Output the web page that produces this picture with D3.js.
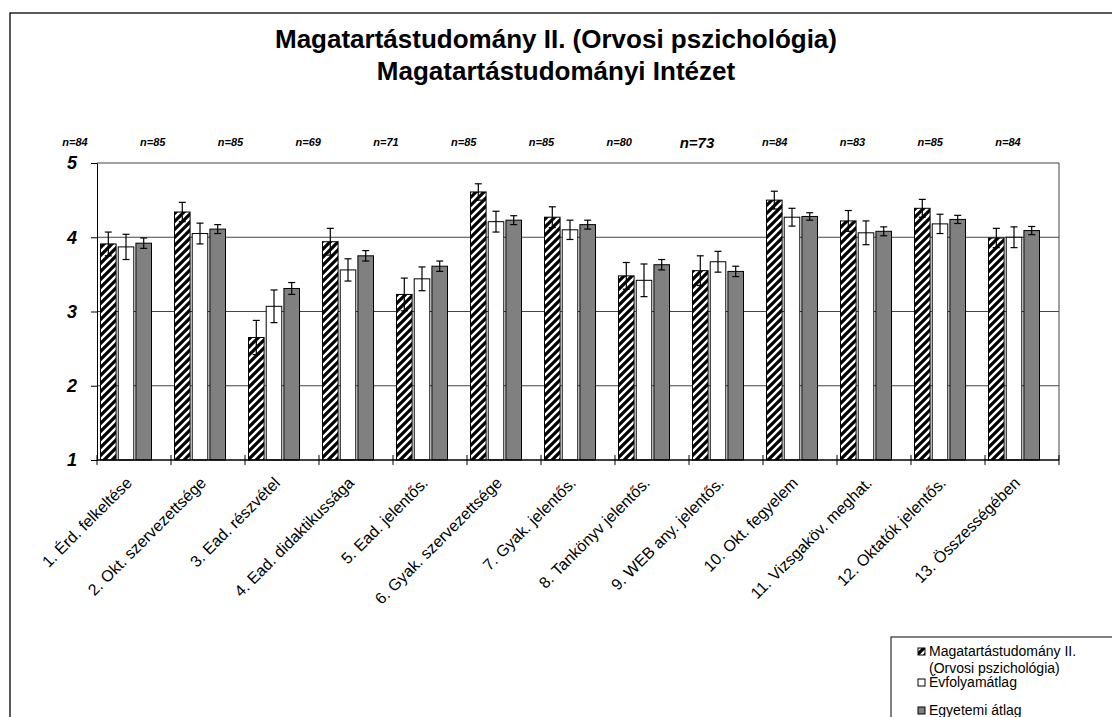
<!DOCTYPE html>
<html>
<head>
<meta charset="utf-8">
<script src="https://cdn.jsdelivr.net/npm/d3@7"></script>
<style>
  body { margin: 0; background: #fff; }
  svg { font-family: "Liberation Sans", Arial, sans-serif; }
</style>
</head>
<body>
<script>
const categories = ['1. Érd. felkeltése', '2. Okt. szervezettsége', '3. Ead. részvétel', '4. Ead. didaktikussága',
  '5. Ead. jelentős.', '6. Gyak. szervezettsége', '7. Gyak. jelentős.', '8. Tankönyv jelentős.',
  '9. WEB any. jelentős.', '10. Okt. fegyelem', '11. Vizsgaköv. meghat.', '12. Oktatók jelentős.', '13. Összességében']
const nLabels = ['n=84', 'n=85', 'n=85', 'n=69', 'n=71', 'n=85', 'n=85', 'n=80', 'n=73', 'n=84', 'n=83', 'n=85', 'n=84']
const seriesNames = ['Magatartástudomány II.\n(Orvosi pszichológia)', 'Évfolyamátlag', 'Egyetemi átlag']
const subject = [3.91, 4.34, 2.65, 3.94, 3.23, 4.61, 4.27, 3.48, 3.55, 4.50, 4.22, 4.39, 3.99]
const subjectErr = [0.16, 0.13, 0.23, 0.18, 0.22, 0.11, 0.14, 0.18, 0.20, 0.12, 0.14, 0.12, 0.13]
const cohort = [3.87, 4.05, 3.07, 3.56, 3.44, 4.21, 4.10, 3.42, 3.67, 4.27, 4.06, 4.18, 4.00]
const cohortErr = [0.17, 0.14, 0.22, 0.15, 0.16, 0.14, 0.13, 0.22, 0.14, 0.12, 0.16, 0.13, 0.14]
const university = [3.92, 4.11, 3.31, 3.75, 3.61, 4.23, 4.17, 3.63, 3.54, 4.28, 4.08, 4.24, 4.09]
const universityErr = [0.07, 0.06, 0.08, 0.07, 0.07, 0.06, 0.06, 0.07, 0.07, 0.05, 0.06, 0.055, 0.055]
const yTicks = [1, 2, 3, 4, 5]

const w = 1112
const h = 717
const plotLeft = 97, plotRight = 1059, plotTop = 163, plotBottom = 460

const svg = d3.select('body').append('svg')
  .attr('width', w)
  .attr('height', h)

// hatch pattern: black with white "/" stripes
const defs = svg.append('defs')
const pat = defs.append('pattern')
  .attr('id', 'hatch')
  .attr('patternUnits', 'userSpaceOnUse')
  .attr('width', 8)
  .attr('height', 8)
pat.append('rect').attr('width', 8).attr('height', 8).attr('fill', '#000')
pat.append('path')
  .attr('d', 'M-2,2 L2,-2 M0,8 L8,0 M6,10 L10,6')
  .attr('stroke', '#fff')
  .attr('stroke-width', 2.4)

const fills = ['url(#hatch)', '#fff', '#808080']

// outer frame
svg.append('rect')
  .attr('x', 10).attr('y', 13)
  .attr('width', w + 20).attr('height', h + 20)
  .attr('fill', 'none').attr('stroke', '#000').attr('stroke-width', 1.3)

// title
const title = svg.append('text')
  .attr('text-anchor', 'middle')
  .attr('font-weight', 'bold')
  .attr('font-size', 26)
title.append('tspan').attr('x', 556).attr('y', 48).text('Magatartástudomány II. (Orvosi pszichológia)')
title.append('tspan').attr('x', 556).attr('y', 80).text('Magatartástudományi Intézet')

const x = d3.scaleBand()
  .domain(categories)
  .range([plotLeft, plotRight])
const xSub = d3.scaleBand()
  .domain([0, 1, 2])
  .range([3.5, 54.5])
  .paddingInner(0.12)
const y = d3.scaleLinear()
  .domain([1, 5])
  .range([plotBottom, plotTop])

// gridlines
svg.append('g')
  .selectAll('line')
  .data(yTicks.slice(1))
  .enter()
  .append('line')
  .attr('x1', plotLeft).attr('x2', plotRight)
  .attr('y1', d => y(d)).attr('y2', d => y(d))
  .attr('stroke', '#444')
  .attr('stroke-width', 1)

svg.append('line')
  .attr('x1', plotRight).attr('x2', plotRight)
  .attr('y1', plotTop).attr('y2', plotBottom)
  .attr('stroke', '#444')

// bars
const series = [
  { vals: subject, errs: subjectErr },
  { vals: cohort, errs: cohortErr },
  { vals: university, errs: universityErr }
]

series.forEach((s, si) => {
  const g = svg.append('g')
  const rows = categories.map((c, i) => ({ c, v: s.vals[i], e: s.errs[i] }))
  g.selectAll('rect')
    .data(rows)
    .enter()
    .append('rect')
    .attr('x', d => x(d.c) + xSub(si))
    .attr('y', d => y(d.v))
    .attr('width', xSub.bandwidth())
    .attr('height', d => y(1) - y(d.v))
    .attr('fill', fills[si])
    .attr('stroke', '#000')
    .attr('stroke-width', 1)

  const eb = g.selectAll('g.err')
    .data(rows)
    .enter()
    .append('g')
    .attr('class', 'err')
    .attr('transform', d => `translate(${x(d.c) + xSub(si) + xSub.bandwidth() / 2},0)`)
  eb.append('line')
    .attr('y1', d => y(d.v - d.e)).attr('y2', d => y(d.v + d.e))
    .attr('stroke', '#000').attr('stroke-width', 1.2)
  eb.append('line')
    .attr('x1', -3.5).attr('x2', 3.5)
    .attr('y1', d => y(d.v + d.e)).attr('y2', d => y(d.v + d.e))
    .attr('stroke', '#000').attr('stroke-width', 1.2)
  eb.append('line')
    .attr('x1', -3.5).attr('x2', 3.5)
    .attr('y1', d => y(d.v - d.e)).attr('y2', d => y(d.v - d.e))
    .attr('stroke', '#000').attr('stroke-width', 1.2)
})

// y axis
const yAxis = svg.append('g')
  .attr('transform', `translate(${plotLeft},0)`)
  .call(d3.axisLeft(y).tickValues(yTicks).tickSize(6).tickPadding(14).tickFormat(d3.format('d')))
yAxis.select('.domain').attr('stroke', '#000')
yAxis.selectAll('.tick line').attr('stroke', '#000')
yAxis.selectAll('text')
  .attr('font-family', '"Liberation Sans", Arial, sans-serif')
  .attr('font-size', 18)
  .attr('font-weight', 'bold')
  .attr('font-style', 'italic')
  .attr('fill', '#000')

// x axis line with cross ticks at category boundaries
svg.append('line')
  .attr('x1', plotLeft).attr('x2', plotRight)
  .attr('y1', plotBottom).attr('y2', plotBottom)
  .attr('stroke', '#000').attr('stroke-width', 1.5)
svg.append('g')
  .selectAll('line')
  .data(categories.concat(['end']))
  .enter()
  .append('line')
  .attr('x1', (d, i) => plotLeft + i * x.step())
  .attr('x2', (d, i) => plotLeft + i * x.step())
  .attr('y1', plotBottom - 5).attr('y2', plotBottom + 5)
  .attr('stroke', '#000')

// category labels
svg.append('g')
  .selectAll('text')
  .data(categories)
  .enter()
  .append('text')
  .attr('transform', d => `translate(${x(d) + x.bandwidth() / 2 - 5},${plotBottom + 20}) rotate(-45)`)
  .attr('text-anchor', 'end')
  .attr('dy', '0.35em')
  .attr('font-size', 16)
  .text(d => d)

// n labels
const nx = d3.scalePoint()
  .domain(d3.range(nLabels.length))
  .range([75, 1008])
svg.append('g')
  .selectAll('text')
  .data(nLabels)
  .enter()
  .append('text')
  .attr('x', (d, i) => nx(i))
  .attr('y', (d, i) => i === 8 ? 148 : 146)
  .attr('text-anchor', 'middle')
  .attr('font-size', (d, i) => i === 8 ? 15 : 11)
  .attr('font-weight', 'bold')
  .attr('font-style', 'italic')
  .text(d => d)

// legend
const lg = svg.append('g')
lg.append('rect')
  .attr('x', 891).attr('y', 637)
  .attr('width', 240).attr('height', 100)
  .attr('fill', '#fff').attr('stroke', '#000')
const legendY = [648, 679, 707]
seriesNames.forEach((name, i) => {
  lg.append('rect')
    .attr('x', 918).attr('y', legendY[i])
    .attr('width', 7).attr('height', 7)
    .attr('fill', fills[i]).attr('stroke', '#000')
  const t = lg.append('text')
    .attr('font-size', 14)
  name.split('\n').forEach((line, j) => {
    t.append('tspan')
      .attr('x', 929)
      .attr('y', legendY[i] + 8 + j * 17)
      .text(line)
  })
})
</script>
</body>
</html>
